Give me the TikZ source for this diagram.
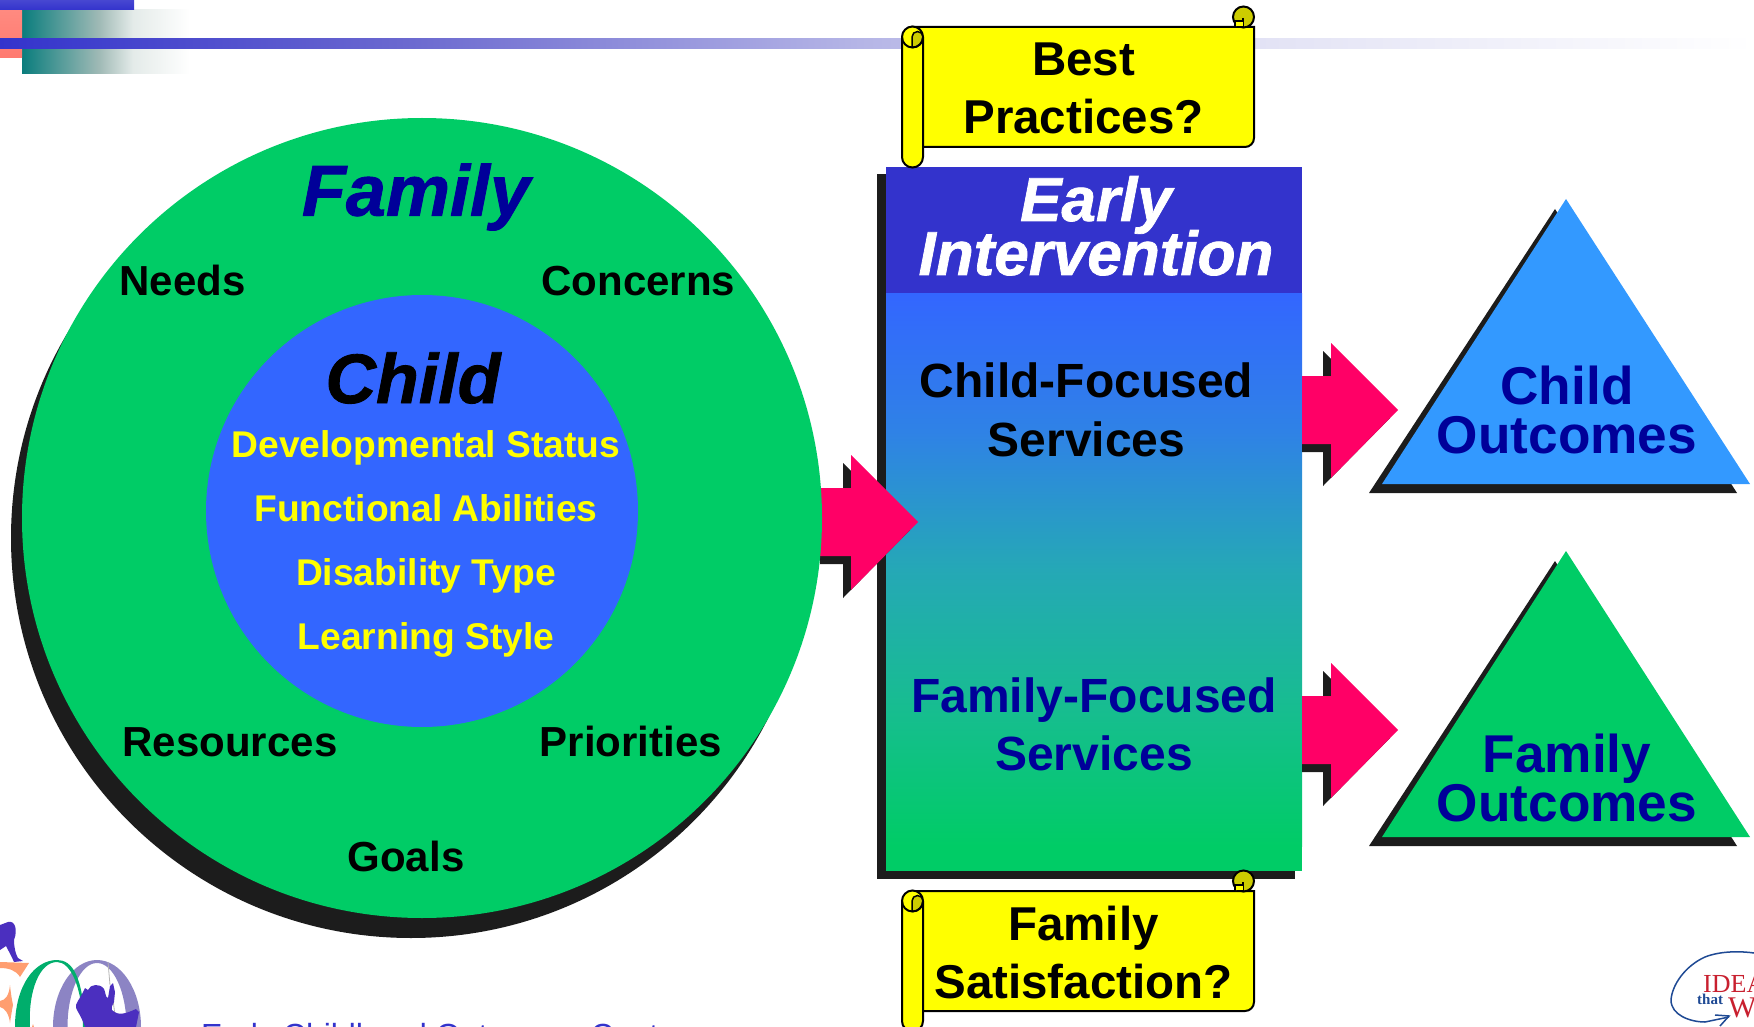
\documentclass[tikz,border=0pt]{standalone}
\usepackage{fontspec}
\setmainfont{Liberation Sans}
\newfontfamily\logofont{Liberation Serif}
\newfontfamily\wordart[FakeBold=1.2]{Liberation Sans Bold Italic}
\usepackage{xcolor}
\definecolor{famgreen}{HTML}{00CC66}
\definecolor{kidblue}{HTML}{3366FF}
\definecolor{barblue}{HTML}{3333CC}
\definecolor{navytext}{HTML}{000099}
\definecolor{skyblue}{HTML}{3399FF}
\definecolor{hotpink}{HTML}{FF0066}
\definecolor{shadowgray}{HTML}{1C1C1C}
\definecolor{sunyellow}{HTML}{FFFF00}
\definecolor{curlyellow}{HTML}{CCCC00}
\definecolor{logopurple}{HTML}{4B2FBF}
\definecolor{logolilac}{HTML}{8C84C4}
\definecolor{logogreen}{HTML}{00AE6C}
\definecolor{logopeach}{HTML}{FF9E70}
\definecolor{logored}{HTML}{C8202F}
\definecolor{logonavy}{HTML}{1F4A94}
\definecolor{fadeA}{HTML}{17BD90}
\definecolor{fadeB}{HTML}{25A8B6}
\definecolor{fadeC}{HTML}{2F82E6}
\definecolor{lineA}{HTML}{6A68CF}
\definecolor{lineB}{HTML}{B5B5E6}
\definecolor{lineC}{HTML}{E3E3F5}
\definecolor{tealA}{HTML}{0A7D7D}
\definecolor{tealB}{HTML}{A0BAB6}
\definecolor{tealC}{HTML}{E4EBE9}
\definecolor{pinkA}{HTML}{FF8A80}
\definecolor{pinkB}{HTML}{FF7A70}
% shadings, the picture spans 25bp to 75bp
\pgfdeclareverticalshading{columnfade}{100bp}{
  color(0bp)=(famgreen); color(25bp)=(famgreen);
  color(37.5bp)=(fadeA);
  color(50bp)=(fadeB);
  color(62.5bp)=(fadeC);
  color(75bp)=(kidblue); color(100bp)=(kidblue)}
\pgfdeclarehorizontalshading{linefade}{100bp}{
  color(0bp)=(barblue); color(25bp)=(barblue);
  color(36.4bp)=(lineA);
  color(49.5bp)=(lineB);
  color(61.2bp)=(lineC);
  color(75bp)=(white); color(100bp)=(white)}
\pgfdeclarehorizontalshading{tealfade}{100bp}{
  color(0bp)=(tealA); color(25bp)=(tealA);
  color(48bp)=(tealB);
  color(58bp)=(tealC);
  color(75bp)=(white); color(100bp)=(white)}
\tikzset{
  bigtext/.style={font=\fontsize{47.5}{58}\selectfont\bfseries,align=center,text=black},
  midtext/.style={font=\fontsize{42}{42}\selectfont\bfseries,text=black,anchor=base},
  kidtext/.style={font=\fontsize{37.2}{37}\selectfont\bfseries,text=sunyellow,anchor=base},
  outtext/.style={font=\fontsize{53.2}{48}\selectfont\bfseries,text=navytext,align=center},
  headtext/.style={font=\fontsize{62}{62}\selectfont\wordart,text=white,anchor=base},
  scrollline/.style={draw=black,line width=2pt,fill=sunyellow},
  blockarrow/.style={fill=hotpink},
  arrowshadow/.style={fill=shadowgray},
}
% block arrow: #1 tail x, #2 tip x, #3 mid y
\newcommand{\blockpath}[3]{(#1,#3-34) -- (#2-67,#3-34) -- (#2-67,#3-67) -- (#2,#3) -- (#2-67,#3+68) -- (#2-67,#3+34) -- (#1,#3+34) -- cycle}
% scroll banner: #1 is the y of its top edge
\newcommand{\scrollbanner}[1]{
  \draw[scrollline] (912,#1) -- (1254,#1) -- (1254,#1+111) arc (0:90:9) -- (912,#1+120) -- cycle;
  \fill[curlyellow,draw=black,line width=2pt] (1243.5,#1-10) circle (10.5);
  \filldraw[fill=sunyellow,draw=black,line width=1.5pt] (1235,#1) -- (1235,#1-6) -- (1243,#1-6) (1243,#1-9) -- (1243,#1);
  \fill[sunyellow] (1236,#1-5) rectangle (1242.5,#1-1);
  \draw[scrollline] (902,#1+10) arc (180:360:10.5) -- (923,#1+130) arc (0:180:10.5) -- cycle;
  \filldraw[fill=curlyellow,draw=black,line width=1.5pt] (912,#1+20) -- (912,#1+10) arc (180:360:5.5) arc (0:90:10.5);
  \draw[line width=2pt] (902,#1+10) arc (180:0:10.5);
}
\begin{document}
\begin{tikzpicture}[x=1pt,y=-1pt]
\useasboundingbox (0,0) rectangle (1754,1027);
\clip (0,0) rectangle (1754,1027);

% header bars
\shade[shading=tealfade] (22,10) rectangle (190,74);
\shade[top color=pinkA,bottom color=pinkB] (0,10) rectangle (22,58);
\shade[top color=barblue!90,bottom color=barblue] (0,0) rectangle (134,10);
\shade[shading=linefade] (0,39) rectangle (1754,49);

% middle column
\fill[shadowgray] (877,174) rectangle (1295,879);
\fill[barblue] (886,167) rectangle (1302,293);
\shade[shading=columnfade] (886,293) rectangle (1302,846);
\fill[famgreen] (886,845) rectangle (1302,871);

% arrows
\fill[arrowshadow] \blockpath{820}{910}{530};
\fill[blockarrow] \blockpath{820}{918}{522};
\fill[arrowshadow] \blockpath{1302}{1390}{418};
\fill[blockarrow] \blockpath{1302}{1398}{410};
\fill[arrowshadow] \blockpath{1302}{1390}{738};
\fill[blockarrow] \blockpath{1302}{1398}{730};

% circles
\fill[shadowgray] (411,538) circle (400);
\fill[famgreen] (422,518) circle (400);
\fill[kidblue] (422,511) circle (216);

% triangles
\fill[shadowgray] (1555,209) -- (1737,493) -- (1369,493) -- cycle;
\fill[skyblue] (1566,199) -- (1750,484) -- (1382,484) -- cycle;
\fill[shadowgray] (1555,561) -- (1737,846) -- (1369,846) -- cycle;
\fill[famgreen] (1566,551) -- (1750,837) -- (1382,837) -- cycle;

% scrolls
\scrollbanner{27}
\scrollbanner{891}

% left logo
\fill[logopurple] (8,922) .. controls (15,920) and (18,930) .. (14,940) .. controls (14,948) and (16,955) .. (18,958) -- (23,961) -- (14,962) .. controls (11,955) and (8,950) .. (6,946) -- (0,950) -- (0,925) -- cycle;
\fill[logopeach] (0,962) -- (29,963) -- (20,977) .. controls (16,970) and (8,968) .. (0,968) -- cycle;
\fill[logopeach] (0,1001) .. controls (6,1000) and (9,995) .. (10,985) .. controls (11,995) and (12,1000) .. (13,1005) .. controls (12,1010) and (11,1016) .. (10,1023) .. controls (9,1014) and (5,1008) .. (0,1007) -- cycle;
\fill[logopeach] (32,1027) -- (33,1024) -- (34,1027) -- cycle;
\fill[logolilac,even odd rule] (97,1027) ellipse (44 and 67) (97,1027) ellipse (29.5 and 64);
\fill[logogreen] (15,1027) .. controls (15,985) and (35,960) .. (57,960) .. controls (72,960) and (83,975) .. (85,1027) -- (83,1027) .. controls (82,985) and (70,962) .. (57,962) .. controls (40,962) and (28,990) .. (30,1027) -- cycle;
\draw[gray!60,line width=0.8pt] (108,962) -- (110,985) (113,1000) -- (115,1015);
\fill[logopurple] (85,988) -- (88,990) .. controls (90,984) and (100,983) .. (104,989) .. controls (106,993) and (105,997) .. (108,998) -- (110,986) -- (113,983) -- (115,992) -- (114,1002) .. controls (112,1006) and (111,1008) .. (112,1010) .. controls (118,1016) and (125,1014) .. (136,1009) -- (139,1012) -- (136,1027) -- (85,1027) .. controls (80,1012) and (75,1010) .. (76,1005) .. controls (78,1000) and (82,995) .. (85,988) -- cycle;

% right logo
\draw[logonavy,line width=1.5pt] (1754,953) .. controls (1740,951) and (1720,951) .. (1705,957) .. controls (1685,966) and (1672,985) .. (1671,1000) .. controls (1671,1015) and (1690,1022) .. (1705,1022) -- (1729,1017);
\draw[logonavy,line width=1.5pt] (1715,1015) -- (1729,1016) -- (1720,1026);
\node[text=logored,font=\fontsize{26}{26}\selectfont\logofont,anchor=base west,inner sep=0pt] (ideas) at (1703,992) {IDEAs};
\node[text=logonavy,font=\fontsize{15}{15}\selectfont\logofont\bfseries,anchor=base west,inner sep=0pt] (that) at (1697,1004) {that};
\node[text=logored,font=\fontsize{30}{30}\selectfont\logofont,anchor=base west,inner sep=0pt] (works) at (1728,1017) {Work};
\node[text=barblue,font=\fontsize{32}{32}\selectfont,anchor=base west,inner sep=0pt] (center) at (201,1046) {Early Childhood Outcomes Center};

% circle labels
\node[text=navytext,font=\fontsize{72}{72}\selectfont\wordart] (family) at (416,197) {Family};
\node[midtext] (needs) at (182.5,295) {Needs};
\node[midtext] (concerns) at (638.5,295) {Concerns};
\node[midtext] (resources) at (230,756) {Resources};
\node[midtext] (priorities) at (631,756) {Priorities};
\node[midtext] (goals) at (406,871) {Goals};
\node[text=black,font=\fontsize{70}{70}\selectfont\wordart] (child) at (413,378) {Child};
\node[kidtext] (status) at (426,457) {Developmental Status};
\node[kidtext] (abilities) at (426,521) {Functional Abilities};
\node[kidtext] (disability) at (426,585) {Disability Type};
\node[kidtext] (style) at (426,649) {Learning Style};

% column labels
\node[headtext] (early) at (1096,221) {Early};
\node[headtext] (intervention) at (1096,275) {Intervention};
\node[bigtext,font=\fontsize{48}{59}\selectfont\bfseries] (childserv) at (1086.5,410) {Child-Focused\\Services};
\node[bigtext,text=navytext,font=\fontsize{48}{58}\selectfont\bfseries] (famserv) at (1094,724) {Family-Focused\\Services};
\node[bigtext] (best) at (1083.5,88) {Best\\Practices?};
\node[bigtext] (satisf) at (1083.5,953) {Family\\Satisfaction?};

% triangle labels
\node[outtext,font=\fontsize{53.2}{49}\selectfont\bfseries] (childout) at (1567,410) {Child\\Outcomes};
\node[outtext] (famout) at (1567,778) {Family\\Outcomes};
\end{tikzpicture}
\end{document}
